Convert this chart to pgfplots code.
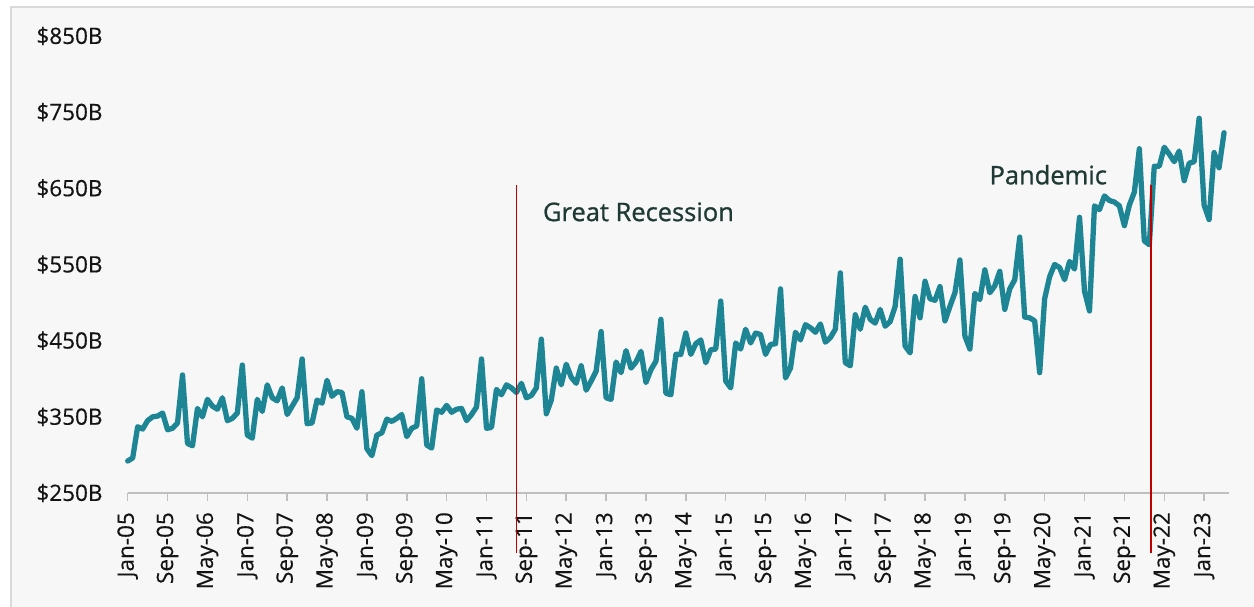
\documentclass[border=0pt]{standalone}
\usepackage{pgfplots}
\pgfplotsset{compat=1.18}
\usepackage{fontspec}
\setmainfont{Open Sans}
\newfontfamily\tickfont[FakeBold=0.35]{Open Sans}
\newfontfamily\notefont[FakeBold=0.9]{Open Sans}
\definecolor{bgfill}{HTML}{F7F7F7}
\definecolor{bgedge}{HTML}{D9D9D9}
\definecolor{salesline}{HTML}{1E8595}
\definecolor{recred}{HTML}{C00000}
\definecolor{notetext}{HTML}{1F3934}
\definecolor{tickgray}{HTML}{BFBFBF}
\definecolor{labeltext}{HTML}{141414}

\begin{document}
\begin{tikzpicture}
\useasboundingbox (0,0) rectangle (1254pt,606pt);
\fill[bgfill] (11pt,-20pt) rectangle (1280pt,599.3pt);
\draw[bgedge, line width=2pt] (11pt,-20pt) -- (11pt,599.3pt) -- (1280pt,599.3pt);
\begin{axis}[
    at={(127.7pt,113pt)}, anchor=south west,
    scale only axis, width=1101.3pt, height=457pt,
    xmin=0, xmax=221, ymin=250, ymax=850,
    axis x line*=bottom, axis y line*=left,
    x axis line style={tickgray, line width=1.5pt, -},
    y axis line style={draw=none},
    tick align=outside, major tick length=8pt,
    xtick style={tickgray, line width=1.5pt},
    ytick style={draw=none},
    xtick={0,8,...,216},
    xticklabels={Jan-05,Sep-05,May-06,Jan-07,Sep-07,May-08,Jan-09,Sep-09,May-10,
        Jan-11,Sep-11,May-12,Jan-13,Sep-13,May-14,Jan-15,Sep-15,May-16,Jan-17,
        Sep-17,May-18,Jan-19,Sep-19,May-20,Jan-21,Sep-21,May-22,Jan-23},
    ytick={250,350,...,850},
    yticklabels={\$250B,\$350B,\$450B,\$550B,\$650B,\$750B,\$850B},
    xticklabel style={rotate=90, anchor=east, inner sep=0pt,
        font=\tickfont\fontsize{22.5}{22.5}\selectfont, text=labeltext},
    yticklabel style={anchor=east, inner sep=0pt,
        font=\tickfont\fontsize{22.5}{22.5}\selectfont, text=labeltext},
    xticklabel shift=11pt,
    yticklabel shift=17pt,
    clip=false,
]
% monthly values, Jan-05 = 0
\addplot[salesline, line width=5.3pt, line join=round, line cap=round] coordinates {
(0,292) (1,296) (2,337) (3,334) (4,345) (5,350) (6,351) (7,355) (8,333) (9,335)
(10,342) (11,405) (12,315) (13,312) (14,361) (15,350) (16,373) (17,364) (18,360) (19,375)
(20,345) (21,348) (22,355) (23,418) (24,326) (25,322) (26,373) (27,357) (28,392) (29,375)
(30,371) (31,388) (32,353) (33,364) (34,375) (35,426) (36,341) (37,342) (38,372) (39,368)
(40,398) (41,377) (42,383) (43,382) (44,350) (45,348) (46,335) (47,383) (48,308) (49,299)
(50,326) (51,329) (52,347) (53,344) (54,348) (55,353) (56,324) (57,335) (58,338) (59,400)
(60,313) (61,309) (62,359) (63,356) (64,365) (65,356) (66,360) (67,361) (68,345) (69,353)
(70,363) (71,426) (72,335) (73,336) (74,386) (75,379) (76,392) (77,388) (78,382) (79,394)
(80,375) (81,378) (82,388) (83,452) (84,354) (85,372) (86,414) (87,392) (88,419) (89,402)
(90,394) (91,417) (92,385) (93,397) (94,410) (95,462) (96,375) (97,373) (98,422) (99,408)
(100,437) (101,414) (102,422) (103,436) (104,395) (105,412) (106,423) (107,478) (108,381) (109,379)
(110,432) (111,432) (112,460) (113,432) (114,446) (115,451) (116,421) (117,438) (118,439) (119,502)
(120,397) (121,388) (122,447) (123,439) (124,465) (125,447) (126,460) (127,458) (128,432) (129,445)
(130,446) (131,518) (132,401) (133,414) (134,461) (135,451) (136,471) (137,467) (138,461) (139,472)
(140,448) (141,454) (142,465) (143,539) (144,421) (145,417) (146,484) (147,465) (148,494) (149,478)
(150,473) (151,491) (152,469) (153,475) (154,495) (155,557) (156,443) (157,434) (158,508) (159,480)
(160,528) (161,505) (162,503) (163,521) (164,476) (165,495) (166,513) (167,556) (168,456) (169,439)
(170,512) (171,504) (172,543) (173,513) (174,522) (175,541) (176,491) (177,518) (178,530) (179,586)
(180,481) (181,480) (182,476) (183,408) (184,505) (185,534) (186,550) (187,546) (188,530) (189,554)
(190,544) (191,612) (192,515) (193,489) (194,627) (195,622) (196,640) (197,634) (198,632) (199,627)
(200,601) (201,628) (202,645) (203,702) (204,581) (205,576) (206,679) (207,679) (208,704) (209,695)
(210,685) (211,699) (212,660) (213,683) (214,685) (215,742) (216,628) (217,609) (218,697) (219,677)
(220,723)
};
% event markers
\addplot[recred, line width=1.7pt] coordinates {(78,171) (78,655)};
\addplot[recred, line width=1.7pt] coordinates {(205.3,171) (205.3,655)};
\node[anchor=base west, inner sep=0pt, text=notetext,
    font=\notefont\fontsize{25.5}{25.5}\selectfont] at (axis cs:83.3,607) {Great Recession};
\node[anchor=base west, inner sep=0pt, text=notetext,
    font=\notefont\fontsize{25.5}{25.5}\selectfont] at (axis cs:172.9,655.3) {Pandemic};
\end{axis}
\end{tikzpicture}
\end{document}
